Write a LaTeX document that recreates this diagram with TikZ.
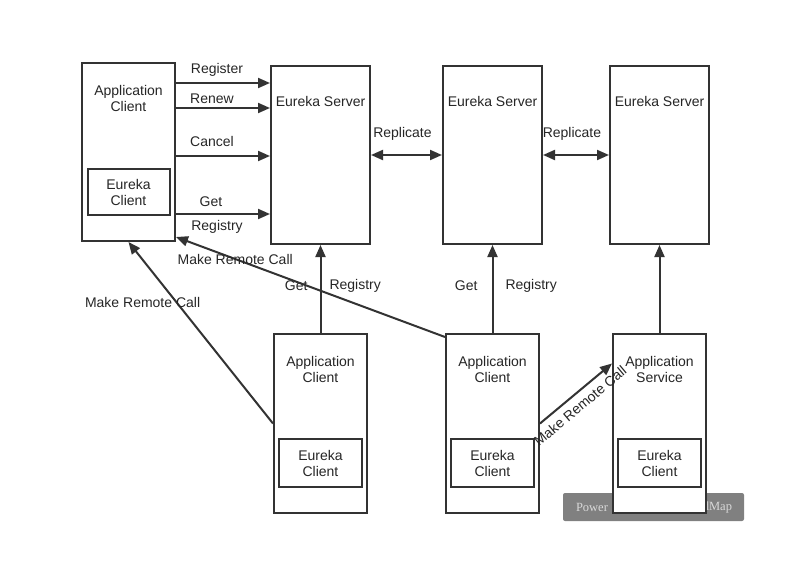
\documentclass[tikz,border=0pt]{standalone}
\usepackage{fontspec}
\setmainfont{Liberation Sans}
\newfontfamily\markfont{Liberation Serif}
\usetikzlibrary{arrows.meta}

\tikzset{
  box/.style={draw=black!80, line width=2pt, fill=white, inner sep=0pt},
  arr/.style={draw=black!80, line width=2pt, -{Triangle[length=12pt,width=10pt]}},
  twoway/.style={draw=black!80, line width=2pt, {Triangle[length=12pt,width=10pt]}-{Triangle[length=12pt,width=10pt]}},
  txt/.style={font=\fontsize{14}{16}\selectfont, align=center, inner sep=2pt, text=black!85},
  marktxt/.style={font=\markfont\fontsize{12.5}{15}\selectfont, text=black!15, inner sep=0pt},
}

\begin{document}
\begin{tikzpicture}[x=1pt,y=-1pt]
    \useasboundingbox (0,0) rectangle (804,575);

    % watermark
    \node[fill=black!50, rounded corners=2pt, minimum width=181, minimum height=28] (mark) at (653.5,507) {};
    \node[marktxt, anchor=west] (markl) at ([xshift=13]mark.west) {Power};
    \node[marktxt, anchor=east] (markr) at ([xshift=-12]mark.east) {dMap};

    % top row
    \node[box, minimum width=93, minimum height=178] (ac1) at (128.5,152) {};
    \node[txt] (ac1t) at ([yshift=-36]ac1.north) {Application\\Client};
    \node[box, txt, minimum width=82, minimum height=46] (ec1) at ([yshift=50]ac1.south) {Eureka\\Client};

    \node[box, minimum width=99, minimum height=178] (es1) at (320.5,155) {};
    \node[box, minimum width=99, minimum height=178] (es2) at (492.5,155) {};
    \node[box, minimum width=99, minimum height=178] (es3) at (659.5,155) {};
    \node[txt] (es1t) at ([yshift=-36]es1.north) {Eureka Server};
    \node[txt] (es2t) at ([yshift=-36]es2.north) {Eureka Server};
    \node[txt] (es3t) at ([yshift=-36]es3.north) {Eureka Server};

    % bottom row
    \node[box, minimum width=93, minimum height=179] (ac2) at (320.5,423.5) {};
    \node[txt] (ac2t) at ([yshift=-36]ac2.north) {Application\\Client};
    \node[box, txt, minimum width=83, minimum height=48] (ec2) at ([yshift=51]ac2.south) {Eureka\\Client};

    \node[box, minimum width=93, minimum height=179] (ac3) at (492.5,423.5) {};
    \node[txt] (ac3t) at ([yshift=-36]ac3.north) {Application\\Client};
    \node[box, txt, minimum width=83, minimum height=48] (ec3) at ([yshift=51]ac3.south) {Eureka\\Client};

    \node[box, minimum width=93, minimum height=179] (as) at (659.5,423.5) {};
    \node[txt] (ast) at ([yshift=-36]as.north) {Application\\Service};
    \node[box, txt, minimum width=83, minimum height=48] (ec4) at ([yshift=51]as.south) {Eureka\\Client};

    % client to server
    \draw[arr] (ac1.east |- 0,83) -- (es1.west |- 0,83) node[midway, above, txt, xshift=-6, yshift=4] {Register};
    \draw[arr] (ac1.east |- 0,108) -- (es1.west |- 0,108) node[midway, above, txt, xshift=-11, yshift=1] {Renew};
    \draw[arr] (ac1.east |- 0,156) -- (es1.west |- 0,156) node[midway, above, txt, xshift=-11, yshift=6] {Cancel};
    \draw[arr] (ac1.east |- 0,214) -- (es1.west |- 0,214) node[midway, above, txt, xshift=-12, yshift=4] {Get}
        node[midway, below, txt, xshift=-6, yshift=-3] {Registry};

    % replication
    \draw[twoway] (es1.east) -- (es2.west) node[midway, above, txt, xshift=-4, yshift=12] {Replicate};
    \draw[twoway] (es2.east) -- (es3.west) node[midway, above, txt, xshift=-4, yshift=12] {Replicate};

    % fetch registry
    \draw[arr] (ac2.north) -- (es1.south) node[midway, left, txt, xshift=-10, yshift=3] {Get}
        node[midway, right, txt, xshift=6, yshift=3] {Registry};
    \draw[arr] (ac3.north) -- (es2.south) node[midway, left, txt, xshift=-12, yshift=3] {Get}
        node[midway, right, txt, xshift=10, yshift=3] {Registry};
    \draw[arr] (as.north) -- (es3.south);

    % remote calls
    \draw[arr] (ac2.west) -- (ac1.south) node[pos=0.667, txt, xshift=-34] {Make Remote Call};
    \draw[arr] ([yshift=-4]ac3.north west) -- ([yshift=5]ac1.south east) node[pos=0.78, txt] {Make Remote Call};
    \draw[arr] (ac3.east) -- ([yshift=60]as.west) node[pos=0.45, sloped, below=4pt, txt] {Make Remote Call};
\end{tikzpicture}
\end{document}
